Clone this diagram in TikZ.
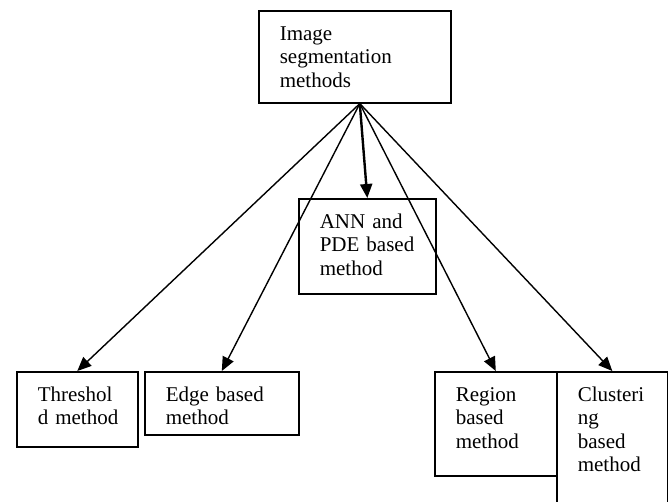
\documentclass[tikz,border=0pt]{standalone}
\usepackage{fontspec}
\setmainfont{Liberation Serif}
\usetikzlibrary{arrows.meta}
\begin{document}
\begin{tikzpicture}[x=1pt,y=-1pt]
\tikzset{blok/.style={draw, line width=1.6pt, anchor=north west, align=left, inner xsep=21pt, inner ysep=0pt, text height=29.5pt, font=\fontsize{21}{23.5}\selectfont},
pijl/.style={-{Triangle[length=14pt,width=12pt]}, line width=1.4pt}}
\useasboundingbox (0,0) rectangle (668,501);
\clip (0,0) rectangle (668,501);
\node[blok, text width=150pt, text depth=62.5pt] (seg) at (258,10) {Image\\segmentation\\methods};
\node[blok, text width=95pt, text depth=65.5pt] (ann) at (298,198) {ANN~and\\PDE~based\\method};
\node[blok, text width=79pt, text depth=45.5pt] (thr) at (16,371) {Threshol\\d~method};
\node[blok, text width=112pt, text depth=33.5pt] (edge) at (144,371) {Edge~based\\method};
\node[blok, text width=80pt, text depth=74.5pt] (reg) at (434,371) {Region\\based\\method};
\node[blok, text width=69pt, text depth=110.5pt] (clu) at (556,371) {Clusteri\\ng\\based\\method};
\coordinate (hub) at ([xshift=5pt]seg.south);
\draw[pijl] (hub) -- (thr.north);
\draw[pijl] (hub) -- (edge.north);
\draw[pijl, line width=2.4pt] (hub) -- (ann.north);
\draw[pijl] (hub) -- (reg.north);
\draw[pijl] (hub) -- (clu.north);
\end{tikzpicture}
\end{document}
